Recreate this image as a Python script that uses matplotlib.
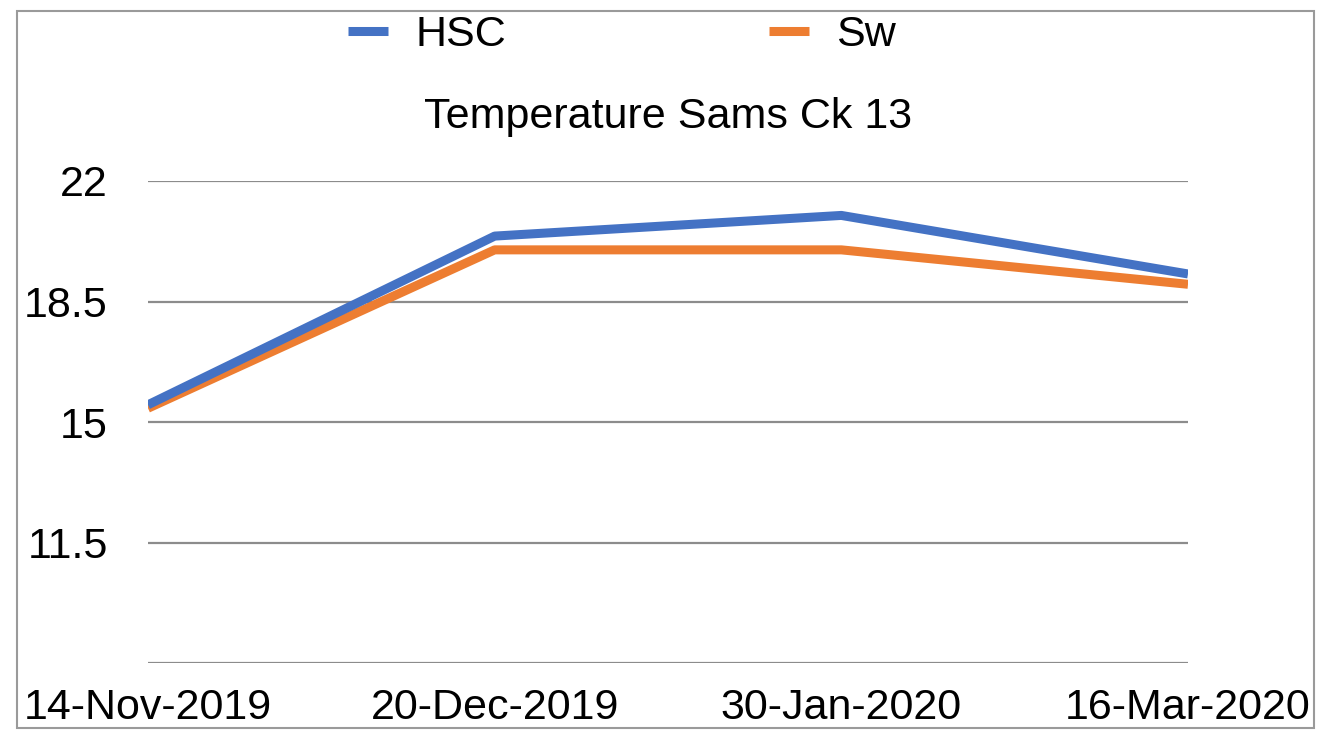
import matplotlib.pyplot as plt
from matplotlib.patches import Rectangle

# chart data
dates = ['14-Nov-2019', '20-Dec-2019', '30-Jan-2020', '16-Mar-2020']
hsc = [15.5, 20.4, 21.0, 19.3]
sw = [15.4, 20.0, 20.0, 19.0]
y_ticks = [8, 11.5, 15, 18.5, 22]
y_labels = ['', '11.5', '15', '18.5', '22']

plt.rcParams['font.family'] = ['Liberation Sans', 'DejaVu Sans']
FS = 31

fig = plt.figure(figsize=(13.43, 7.32), dpi=100)
ax = fig.add_axes([148 / 1343, 1 - 663 / 732, (1188 - 148) / 1343, (663 - 181) / 732])

x = list(range(len(dates)))
ax.plot(x, sw, color='#ED7D31', lw=6.5, label='Sw', zorder=3, solid_capstyle='butt')
ax.plot(x, hsc, color='#4472C4', lw=6.5, label='HSC', zorder=4, solid_capstyle='butt')

ax.set_xlim(0, len(dates) - 1)
ax.set_ylim(8, 22)
ax.set_yticks(y_ticks)
ax.set_yticklabels(y_labels, fontsize=FS)
ax.set_xticks(x)
ax.set_xticklabels(dates, fontsize=FS)
ax.tick_params(length=0)
ax.tick_params(axis='y', pad=29)
ax.tick_params(axis='x', pad=18)
ax.grid(axis='y', color='#8c8c8c', lw=1.6)
ax.set_axisbelow(True)
for s in ax.spines.values():
    s.set_visible(False)

ax.set_title('Temperature Sams Ck 13', fontsize=FS, pad=38)

h, l = ax.get_legend_handles_labels()
fig.legend(h[::-1], l[::-1], loc='center left', bbox_to_anchor=(348 / 1343, 1 - 35 / 732),
           ncol=2, frameon=False, fontsize=FS, handlelength=0.93, handletextpad=0.63,
           columnspacing=6.1, borderpad=0, borderaxespad=0)

# outer frame
fig.patches.append(Rectangle((17 / 1343, 1 - 728 / 732), (1314 - 17) / 1343, (728 - 11) / 732,
                             transform=fig.transFigure, fill=False, ec='#9a9a9a', lw=1.5))

fig.savefig('out.png', dpi=100)
